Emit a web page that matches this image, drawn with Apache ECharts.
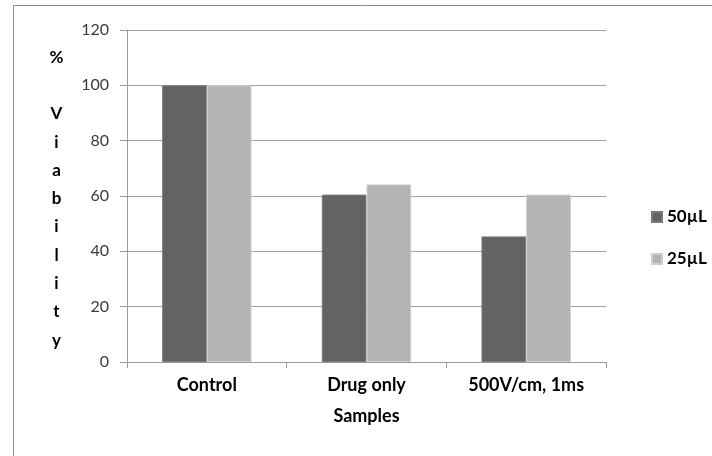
<!DOCTYPE html>
<html>
<head>
<meta charset="utf-8">
<script src="https://cdn.jsdelivr.net/npm/echarts@6/dist/echarts.min.js"></script>
<style>
html,body{margin:0;padding:0;background:#fff;}
#chart{width:712px;height:456px;}
</style>
</head>
<body>
<div id="chart"></div>
<script>
const categories = ['Control', 'Drug only', '500V/cm, 1ms'];
const series50 = [100, 60.5, 45.4];
const series25 = [100, 64.2, 60.5];
const seriesNames = ['50\u00b5L', '25\u00b5L'];
const yTicks = { min: 0, max: 120, interval: 20 };

const chart = echarts.init(document.getElementById('chart'), null, { renderer: 'canvas' });
const font = 'Lato, "Open Sans", sans-serif';
chart.setOption({
  animation: false,
  backgroundColor: '#fff',
  textStyle: { fontFamily: font },
  grid: { left: 127, right: 106, top: 30, bottom: 94, containLabel: false },
  legend: {
    orient: 'vertical',
    left: 646,
    top: 203,
    itemWidth: 10,
    itemHeight: 10,
    itemGap: 24,
    icon: 'rect',
    textStyle: { fontFamily: font, fontWeight: 'bold', fontSize: 17, lineHeight: 18, color: '#000', padding: [0, 0, 0, 0] },
    data: seriesNames
  },
  xAxis: {
    type: 'category',
    data: categories,
    name: 'Samples',
    nameLocation: 'middle',
    nameGap: 45,
    nameTextStyle: { fontFamily: font, fontWeight: 'bold', fontSize: 18, color: '#000' },
    axisLine: { lineStyle: { color: '#9a9a9a', width: 1 } },
    axisTick: { show: true, length: 6, lineStyle: { color: '#9a9a9a' } },
    axisLabel: { margin: 14, fontFamily: font, fontWeight: 'bold', fontSize: 18, color: '#000' }
  },
  yAxis: {
    type: 'value',
    min: yTicks.min,
    max: yTicks.max,
    interval: yTicks.interval,
    axisLine: { show: true, lineStyle: { color: '#9a9a9a', width: 1 } },
    axisTick: { show: true, inside: false, length: 7, lineStyle: { color: '#9a9a9a' } },
    axisLabel: { margin: 18, fontFamily: font, fontSize: 16, color: '#3a3a3a' },
    splitLine: { show: true, lineStyle: { color: '#a0a0a0', width: 1 } }
  },
  series: [
    {
      name: seriesNames[0], type: 'bar', data: series50,
      barGap: '0%', barCategoryGap: '44%',
      itemStyle: { color: '#636363', borderColor: '#7a7a7a', borderWidth: 1 }
    },
    {
      name: seriesNames[1], type: 'bar', data: series25,
      itemStyle: { color: '#b3b3b3', borderColor: '#cfcfcf', borderWidth: 1 }
    }
  ],
  graphic: [
    {
      type: 'rect', left: 11, top: 3,
      shape: { width: 720, height: 480 },
      style: { fill: 'none', stroke: '#8a8a8a', lineWidth: 1 },
      silent: true
    },
    {
      type: 'text', x: 56.5, y: 43,
      style: {
        text: '%\n \nV\ni\na\nb\ni\nl\ni\nt\ny',
        font: 'bold 17px ' + font,
        lineHeight: 28.3,
        fill: '#000',
        align: 'center',
        verticalAlign: 'top'
      }
    }
  ]
});
</script>
</body>
</html>
